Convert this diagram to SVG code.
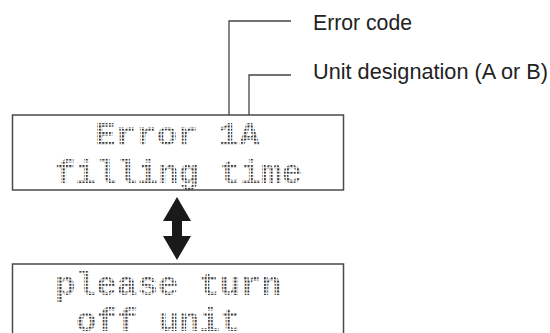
<svg xmlns="http://www.w3.org/2000/svg" width="550" height="333" viewBox="0 0 550 333">
  <style>
    .box { fill: #ffffff; stroke: #4a4a4a; stroke-width: 1.5; }
    .lcd { font-family: "Liberation Mono", "DejaVu Sans Mono", monospace; font-size: 34px; font-weight: bold; fill: url(#dots); letter-spacing: 0.2px; }
    .lbl { font-family: "Liberation Sans", Arial, sans-serif; font-size: 22px; fill: #222222; }
    .lead { fill: none; stroke: #444444; stroke-width: 1.3; }
    .arrow { fill: #1a1a1a; }
  </style>
  <defs>
    <pattern id="dots" x="0" y="0" width="3.3" height="3.3" patternUnits="userSpaceOnUse">
      <rect width="2.1" height="2.1" fill="#3a3a3a"/>
    </pattern>
  </defs>
  <rect width="550" height="333" fill="#ffffff"/>
  <g id="display1">
    <rect class="box" x="12.5" y="115" width="331" height="75"/>
    <text class="lcd" x="95" y="145">Error 1A</text>
    <text class="lcd" x="55" y="183">filling time</text>
  </g>
  <g id="display2">
    <rect class="box" x="12.5" y="264" width="331" height="80"/>
    <text class="lcd" x="55" y="295">please turn</text>
    <text class="lcd" x="76" y="331">off unit</text>
  </g>
  <g id="label-error-code">
    <text class="lbl" x="313" y="29.5" textLength="99" lengthAdjust="spacingAndGlyphs">Error code</text>
  </g>
  <g id="label-unit">
    <text class="lbl" x="313" y="79" textLength="235" lengthAdjust="spacingAndGlyphs">Unit designation (A or B)</text>
  </g>
  <g id="connectors">
    <polyline class="lead" points="229,115 229,21 291,21"/>
    <polyline class="lead" points="249,115 249,75 291,75"/>
    <polygon class="arrow" points="177,197 191,221 182,221 182,236 191,236 177,260 163,236 172,236 172,221 163,221"/>
  </g>
</svg>
